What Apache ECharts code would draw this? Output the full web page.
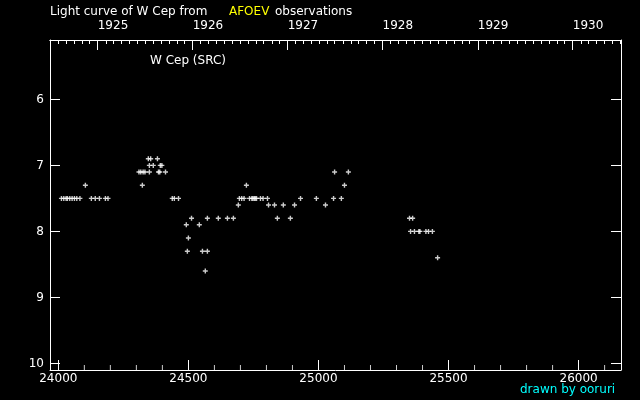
<!DOCTYPE html>
<html><head><meta charset="utf-8">
<script src="https://cdn.jsdelivr.net/npm/echarts@6/dist/echarts.min.js"></script>
<style>html,body{margin:0;padding:0;background:#000}#c{width:640px;height:400px}</style>
</head><body><div id="c"></div>
<script>
// Julian Date - 2400000
const jd = [24012,24021,24030,24035,24044,24053,24062,24071,24083,24104,24127,24142,24158,24181,24191,
  24310,24317,24323,24326,24333,24346,24350,24350,24355,24365,24381,24385,24390,24392,24398,24412,
  24438,24446,24462,24492,24496,24500,24512,24542,24554,24565,24573,24573,24615,24650,24673,
  24692,24696,24705,24714,24723,24735,24744,24748,24753,24757,24762,24777,24787,24804,24808,
  24831,24842,24865,24892,24908,24931,24992,25027,25058,25062,25088,25100,25115,
  25350,25354,25362,25369,25386,25390,25413,25423,25438,25458];
const mag = [7.5,7.5,7.5,7.5,7.5,7.5,7.5,7.5,7.5,7.3,7.5,7.5,7.5,7.5,7.5,
  7.1,7.1,7.3,7.1,7.1,6.9,7.0,7.1,6.9,7.0,6.9,7.1,7.1,7.0,7.0,7.1,
  7.5,7.5,7.5,7.9,8.3,8.1,7.8,7.9,8.3,8.6,7.8,8.3,7.8,7.8,7.8,
  7.6,7.5,7.5,7.5,7.3,7.5,7.5,7.5,7.5,7.5,7.5,7.5,7.5,7.5,7.6,
  7.6,7.8,7.6,7.8,7.6,7.5,7.5,7.6,7.5,7.1,7.5,7.3,7.1,
  7.8,8.0,7.8,8.0,8.0,8.0,8.0,8.0,8.0,8.4];
const xTicks = [24000,24500,25000,25500,26000];
const xMinorTicks = [24100,24200,24300,24400,24600,24700,24800,24900,25100,25200,25300,25400,25600,25700,25800,25900,26100];
const yTicks = [6,7,8,9,10];
const yearLabels = ['1925','1926','1927','1928','1929','1930'];

const X_MIN = 23968, X_MAX = 26163, Y_MIN = 5.1, Y_MAX = 10.1;
function jdOf(y, m) { return Date.UTC(y, m, 1) / 86400000 + 2440587.5 - 2400000; }
const yearStarts = yearLabels.map(y => jdOf(+y, 0));
const monthTicks = [];
for (let y = 1924; y <= 1931; y++) for (let m = 0; m < 12; m++) {
  const v = jdOf(y, m); if (v > X_MIN && v < X_MAX) monthTicks.push(v);
}
const W = '#ffffff';
const FONT = '"DejaVu Sans"';
const chart = echarts.init(document.getElementById('c'), null, {renderer: 'canvas'});
const gridBox = {left: 50, right: 19, top: 40, bottom: 30};
const baseX = {type: 'value', min: X_MIN, max: X_MAX, splitLine: {show: false}};
const baseY = {type: 'value', inverse: true, min: Y_MIN, max: Y_MAX, splitLine: {show: false}};
const line = {show: true, onZero: false, lineStyle: {color: W, width: 1}};
const ghostLabel = vals => ({show: true, customValues: vals, color: 'rgba(0,0,0,0)', fontSize: 1, margin: 8,
  hideOverlap: false, formatter: () => '.'});
chart.setOption({
  backgroundColor: '#000',
  animation: false,
  grid: [Object.assign({}, gridBox), Object.assign({}, gridBox)],
  xAxis: [
    Object.assign({}, baseX, {gridIndex: 0, position: 'bottom', axisLine: line,
      axisTick: {show: true, inside: true, length: 10, customValues: xTicks, lineStyle: {color: W}},
      axisLabel: {show: true, customValues: xTicks, color: W, fontSize: 12, fontFamily: FONT, margin: 3,
        formatter: v => String(v)}}),
    Object.assign({}, baseX, {gridIndex: 0, position: 'top', axisLine: line,
      axisTick: {show: true, inside: true, length: 10, customValues: yearStarts, lineStyle: {color: W}},
      axisLabel: {show: true, customValues: yearStarts, color: W, fontSize: 12, fontFamily: FONT, margin: 8, align: 'left',
        formatter: v => { let i = 0, b = 1e9; yearStarts.forEach((s, k) => { if (Math.abs(s - v) < b) { b = Math.abs(s - v); i = k; } }); return yearLabels[i]; }}}),
    Object.assign({}, baseX, {gridIndex: 1, position: 'top', axisLine: line,
      axisTick: {show: true, inside: true, length: 4, customValues: monthTicks, lineStyle: {color: W}},
      axisLabel: ghostLabel(monthTicks)})
  ],
  yAxis: [
    Object.assign({}, baseY, {gridIndex: 0, position: 'left', axisLine: line,
      axisTick: {show: true, inside: true, length: 10, customValues: yTicks, lineStyle: {color: W}},
      axisLabel: {show: true, customValues: yTicks, color: W, fontSize: 12, fontFamily: FONT, margin: 6}}),
    Object.assign({}, baseY, {gridIndex: 0, position: 'right', axisLine: line,
      axisTick: {show: true, inside: true, length: 10, customValues: yTicks, lineStyle: {color: W}},
      axisLabel: {show: false}}),
    Object.assign({}, baseY, {gridIndex: 1, position: 'left', show: false})
  ],
  series: [{
    type: 'scatter', xAxisIndex: 0, yAxisIndex: 0,
    data: jd.map((v, i) => [v, mag[i]]),
    symbol: 'path://M18,0h14v18h18v14h-18v18h-14v-18h-18v-14h18z',
    symbolSize: 5,
    itemStyle: {color: W},
    silent: true
  }, {
    // minor ticks (every 100 days) on the bottom axis, placed through the axis scales
    type: 'scatter', xAxisIndex: 0, yAxisIndex: 0,
    data: xMinorTicks.map(v => [v, Y_MAX]),
    symbol: 'rect', symbolSize: [1, 5], symbolOffset: [0, -2.5],
    itemStyle: {color: W}, clip: false, silent: true
  }],
  graphic: [
    {type: 'text', x: 50, y: 6, style: {text: 'Light curve of W Cep from', fill: W, font: '12px ' + FONT}},
    {type: 'text', x: 229, y: 6, style: {text: 'AFOEV', fill: '#ffff00', font: '12px ' + FONT}},
    {type: 'text', x: 275, y: 6, style: {text: 'observations', fill: W, font: '12px ' + FONT}},
    {type: 'text', x: 150, y: 55, style: {text: 'W Cep (SRC)', fill: W, font: '12px ' + FONT}},
    {type: 'text', x: 520, y: 384, style: {text: 'drawn by ooruri', fill: '#00ffff', font: '12px ' + FONT}}
  ]
});
</script></body></html>
